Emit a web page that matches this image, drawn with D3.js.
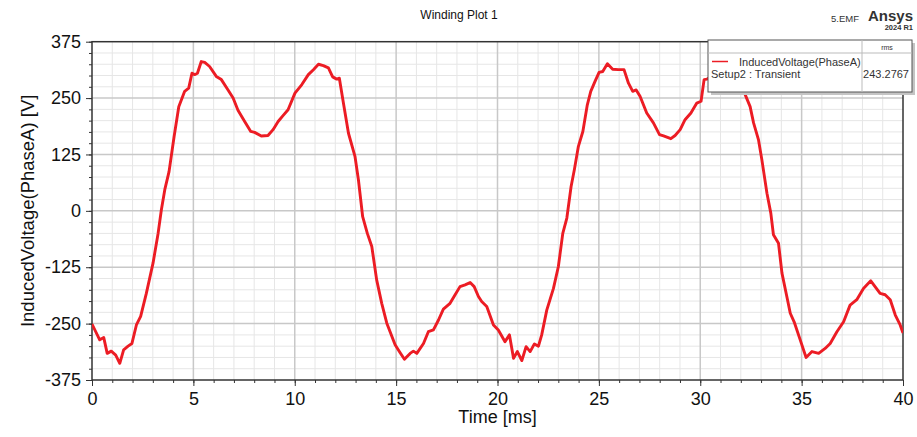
<!DOCTYPE html>
<html>
<head>
<meta charset="utf-8">
<script src="https://cdn.jsdelivr.net/npm/d3@7"></script>
<style>
  html, body { margin: 0; padding: 0; background: #fff; }
  svg { display: block; font-family: "Liberation Sans", Arial, sans-serif; }
</style>
</head>
<body>
<svg id="chart" width="917" height="437"></svg>
<script>
// Induced voltage of phase A over two electrical periods
const timeMs = [
  0, 0.38, 0.58, 0.75, 0.95, 1.17, 1.37, 1.56, 1.78, 1.97, 2.19, 2.40, 2.68, 3.01, 3.26, 3.42, 3.59, 3.80,
  4.05, 4.28, 4.57, 4.77, 4.93, 5.06, 5.20, 5.39, 5.56, 5.80, 6.13, 6.38, 6.71, 6.96, 7.20, 7.53, 7.83,
  8.02, 8.35, 8.68, 8.93, 9.18, 9.40, 9.67, 10.01, 10.35, 10.67, 10.92, 11.17, 11.41, 11.66, 11.87, 12.07,
  12.20, 12.40, 12.65, 12.97, 13.14, 13.35, 13.58, 13.80, 14.04, 14.29, 14.54, 14.95, 15.19, 15.41, 15.69,
  15.85, 16.02, 16.35, 16.59, 16.84, 17.09, 17.33, 17.66, 17.91, 18.15, 18.40, 18.65, 18.85, 19.06, 19.22,
  19.47, 19.80, 20.04, 20.37, 20.59, 20.79, 20.98, 21.20, 21.41, 21.61, 21.82, 22.02, 22.18, 22.43, 22.76,
  23.00, 23.22, 23.42, 23.63, 23.79, 23.99, 24.21, 24.43, 24.60, 24.81, 25.01, 25.19, 25.42, 25.68, 25.96,
  26.24, 26.46, 26.67, 26.84, 27.03, 27.36, 27.69, 27.99, 28.19, 28.55, 28.76, 29.01, 29.25, 29.54, 29.83,
  30.04, 30.19, 30.33, 30.60, 30.90, 31.20, 31.50, 31.80, 32.00, 32.10, 32.22, 32.46, 32.63, 32.87, 33.04,
  33.29, 33.48, 33.61, 33.86, 34.03, 34.27, 34.44, 34.63, 34.93, 35.22, 35.51, 35.84, 36.16, 36.41, 36.74,
  37.07, 37.39, 37.72, 38.05, 38.41, 38.87, 39.12, 39.37, 39.62, 39.86, 40.00
];
const voltageV = [
  -251, -286, -281, -316, -311, -320, -338, -308, -300, -294, -253, -234, -183, -116, -50, 2, 47, 87,
  165, 231, 265, 272, 305, 302, 305, 331, 329, 320, 298, 291, 268, 250, 223, 198, 176,
  174, 166, 167, 180, 198, 210, 224, 261, 280, 302, 313, 325, 322, 317, 297, 292,
  294, 239, 172, 121, 69, -13, -50, -79, -153, -205, -249, -297, -314, -329, -316,
  -311, -316, -294, -268, -264, -242, -218, -205, -186, -168, -164, -159, -168, -190, -201,
  -212, -253, -264, -290, -275, -327, -312, -332, -301, -312, -295, -300, -275, -220, -172,
  -124, -50, -16, 54, 91, 143, 176, 235, 265, 287, 307, 309, 326, 314, 313,
  313, 283, 265, 268, 254, 217, 195, 169, 166, 160, 167, 180, 202, 217, 239,
  243, 291, 292, 300, 312, 318, 312, 298, 290, 275, 257, 231, 195, 158, 113,
  39, -5, -53, -72, -138, -190, -227, -246, -286, -325, -312, -316, -305, -294, -268,
  -246, -209, -197, -172, -155, -183, -186, -197, -231, -253, -271
];

const xTickValues = [0, 5, 10, 15, 20, 25, 30, 35, 40];
const yTickValues = [-375, -250, -125, 0, 125, 250, 375];

const chartTitle = "Winding Plot 1";
const xAxisTitle = "Time [ms]";
const yAxisTitle = "InducedVoltage(PhaseA) [V]";
const traceName = "InducedVoltage(PhaseA)";
const setupName = "Setup2 : Transient";
const rmsHeader = "rms";
const rmsValue = "243.2767";

const svg = d3.select("#chart");
const W = 917, H = 437;
const margin = { left: 92, right: 14, top: 41.7, bottom: 57 };
const x0 = margin.left, x1 = W - margin.right;
const y0 = margin.top, y1 = H - margin.bottom;

const x = d3.scaleLinear().domain([0, 40]).range([x0, x1]);
const y = d3.scaleLinear().domain([-375, 375]).range([y1, y0]);

// Plain ASCII hyphen for negative tick labels
const fmt = d => String(d);

svg.append("rect").attr("width", W).attr("height", H).attr("fill", "#fff");

// Grid: minor lines every 1 ms / 25 V, major lines on the labelled ticks
const grid = svg.append("g");
grid.selectAll("line.vminor").data(d3.range(0, 41, 1).filter(d => d % 5 !== 0))
  .join("line").attr("x1", d => x(d)).attr("x2", d => x(d)).attr("y1", y0).attr("y2", y1)
  .attr("stroke", "#e6e6e6").attr("stroke-width", 1);
grid.selectAll("line.hminor").data(d3.range(-375, 376, 25).filter(d => d % 125 !== 0))
  .join("line").attr("x1", x0).attr("x2", x1).attr("y1", d => y(d)).attr("y2", d => y(d))
  .attr("stroke", "#e6e6e6").attr("stroke-width", 1);
grid.selectAll("line.vmajor").data(xTickValues.slice(1, -1))
  .join("line").attr("x1", d => x(d)).attr("x2", d => x(d)).attr("y1", y0).attr("y2", y1)
  .attr("stroke", "#c8c8c8").attr("stroke-width", 1.5);
grid.selectAll("line.hmajor").data(yTickValues.slice(1, -1))
  .join("line").attr("x1", x0).attr("x2", x1).attr("y1", d => y(d)).attr("y2", d => y(d))
  .attr("stroke", "#c8c8c8").attr("stroke-width", 1.5);

// Axes with minor ticks
const tickFont = "18px";
const xMinor = d3.axisBottom(x).tickValues(d3.range(0, 41, 1)).tickSize(3).tickFormat("");
const yMinor = d3.axisLeft(y).tickValues(d3.range(-375, 376, 25)).tickSize(3).tickFormat("");
svg.append("g").attr("transform", `translate(0,${y1})`).call(xMinor)
  .call(g => g.select(".domain").remove())
  .selectAll("line").attr("stroke", "#333");
svg.append("g").attr("transform", `translate(${x0},0)`).call(yMinor)
  .call(g => g.select(".domain").remove())
  .selectAll("line").attr("stroke", "#333");

const xAxis = d3.axisBottom(x).tickValues(xTickValues).tickSize(6).tickPadding(6).tickFormat(fmt);
const yAxis = d3.axisLeft(y).tickValues(yTickValues).tickSize(6).tickPadding(5).tickFormat(fmt);
svg.append("g").attr("transform", `translate(0,${y1})`).call(xAxis)
  .call(g => g.select(".domain").remove())
  .call(g => g.selectAll("line").attr("stroke", "#333"))
  .call(g => g.selectAll("text").attr("font-size", tickFont).attr("fill", "#111")
    .attr("font-family", "Liberation Sans, Arial, sans-serif"));
svg.append("g").attr("transform", `translate(${x0},0)`).call(yAxis)
  .call(g => g.select(".domain").remove())
  .call(g => g.selectAll("line").attr("stroke", "#333"))
  .call(g => g.selectAll("text").attr("font-size", tickFont).attr("fill", "#111")
    .attr("font-family", "Liberation Sans, Arial, sans-serif"));

// Plot frame
svg.append("rect").attr("x", x0).attr("y", y0).attr("width", x1 - x0).attr("height", y1 - y0)
  .attr("fill", "none").attr("stroke", "#333").attr("stroke-width", 1.5);

// Trace
svg.append("clipPath").attr("id", "plotClip").append("rect")
  .attr("x", x0).attr("y", y0).attr("width", x1 - x0).attr("height", y1 - y0);
const line = d3.line().x(d => x(d[0])).y(d => y(d[1]));
svg.append("path")
  .datum(timeMs.map((t, i) => [t, voltageV[i]]))
  .attr("clip-path", "url(#plotClip)")
  .attr("d", line)
  .attr("fill", "none").attr("stroke", "#ec1c24").attr("stroke-width", 2.9)
  .attr("stroke-linejoin", "round");

// Titles
svg.append("text").attr("x", 459).attr("y", 18.5).attr("text-anchor", "middle")
  .attr("font-size", "12px").attr("fill", "#111").text(chartTitle);
svg.append("text").attr("x", (x0 + x1) / 2).attr("y", 423).attr("text-anchor", "middle")
  .attr("font-size", "18px").attr("fill", "#111").text(xAxisTitle);
svg.append("text").attr("transform", `translate(34,${(y0 + y1) / 2}) rotate(-90)`)
  .attr("text-anchor", "middle").attr("font-size", "18.5px").attr("fill", "#111").text(yAxisTitle);

// Branding, top right
svg.append("text").attr("x", 859).attr("y", 21.5).attr("text-anchor", "end")
  .attr("font-size", "9.5px").attr("fill", "#333").text("5.EMF");
svg.append("text").attr("x", 913).attr("y", 20.5).attr("text-anchor", "end")
  .attr("font-size", "15px").attr("font-weight", "bold").attr("fill", "#333").text("Ansys");
svg.append("text").attr("x", 913).attr("y", 29.5).attr("text-anchor", "end")
  .attr("font-size", "7.5px").attr("font-weight", "bold").attr("fill", "#333").text("2024 R1");

// Legend table
const lg = svg.append("g");
const lx = 708, ly = 40, lw = 204, lh = 52, colX = 862, headY = 53;
lg.append("rect").attr("x", lx + 3).attr("y", ly + 3).attr("width", lw).attr("height", lh).attr("fill", "#c4c4c4");
lg.append("rect").attr("x", lx).attr("y", ly).attr("width", lw).attr("height", lh)
  .attr("fill", "#fff").attr("stroke", "#555").attr("stroke-width", 1);
lg.append("line").attr("x1", lx).attr("x2", lx + lw).attr("y1", headY).attr("y2", headY)
  .attr("stroke", "#bbb").attr("stroke-width", 1);
lg.append("line").attr("x1", colX).attr("x2", colX).attr("y1", ly).attr("y2", ly + lh)
  .attr("stroke", "#bbb").attr("stroke-width", 1);
lg.append("text").attr("x", 887).attr("y", 49.5).attr("text-anchor", "middle")
  .attr("font-size", "7px").attr("fill", "#333").text(rmsHeader);
lg.append("line").attr("x1", 712).attr("x2", 728).attr("y1", 61.5).attr("y2", 61.5)
  .attr("stroke", "#ec1c24").attr("stroke-width", 1.5);
lg.append("text").attr("x", 739).attr("y", 65.5).attr("font-size", "11px").attr("fill", "#333").text(traceName);
lg.append("text").attr("x", 711).attr("y", 77.5).attr("font-size", "11px").attr("fill", "#333").text(setupName);
lg.append("text").attr("x", 909).attr("y", 77.5).attr("text-anchor", "end")
  .attr("font-size", "11px").attr("fill", "#333").text(rmsValue);
</script>
</body>
</html>
